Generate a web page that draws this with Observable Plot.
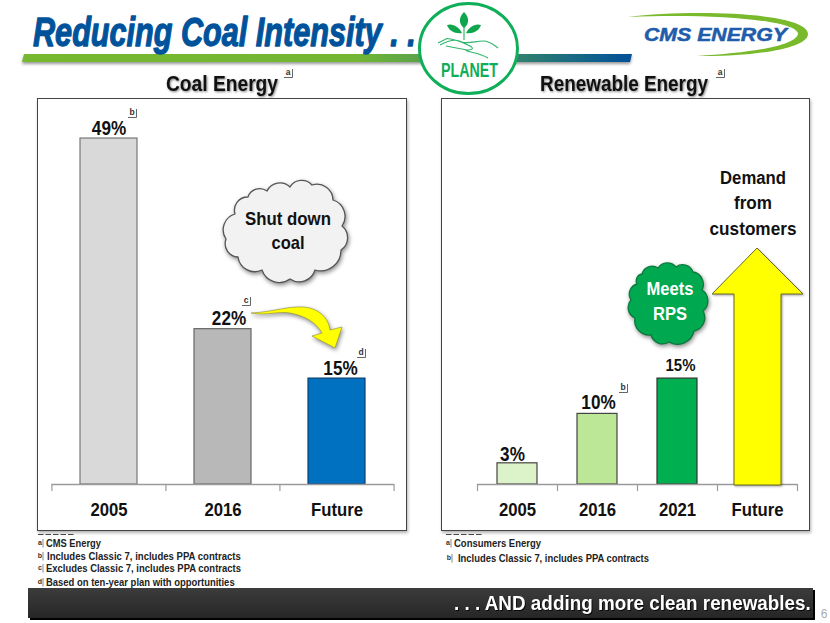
<!DOCTYPE html>
<html>
<head>
<meta charset="utf-8">
<script src="https://cdn.jsdelivr.net/npm/d3@7"></script>
<script src="https://cdn.jsdelivr.net/npm/@observablehq/plot@0.6"></script>
<style>
html,body{margin:0;padding:0;background:#fff;}
#page{position:relative;width:830px;height:623px;overflow:hidden;font-family:"Liberation Sans",Arial,sans-serif;}
.frame{position:absolute;box-sizing:border-box;border:1.3px solid #444;background:#fff;box-shadow:1px 2px 3px rgba(0,0,0,.3);}
.plotbox{position:absolute;}
#overlay{position:absolute;left:0;top:0;}
</style>
</head>
<body>
<div id="page">
  <div class="frame" style="left:37px;top:98px;width:370px;height:433px"></div>
  <div class="frame" style="left:441px;top:98px;width:369px;height:433px"></div>
  <div class="plotbox" id="coal" style="left:37px;top:98px"></div>
  <div class="plotbox" id="renew" style="left:441px;top:98px"></div>
</div>
<script>
const coalCategories = ["2005", "2016", "Future"];
const coalValues = [49, 22, 15];
const coalFills = ["#d9d9d9", "#b8b8b8", "#0070c0"];
const coalStrokes = ["#777777", "#666666", "#0b3f72"];

const renewCategories = ["2005", "2016", "2021", "Future"];
const renewValues = [3, 10, 15, null];
const renewFills = ["#dcf2c9", "#bce796", "#00b050", "none"];
const renewStrokes = ["#444444", "#444444", "#333333", "none"];

const footnotesCoal = ["CMS Energy", "Includes  Classic 7, includes PPA  contracts", "Excludes Classic 7, includes PPA  contracts", "Based on ten-year plan with opportunities"];
const footnotesRenew = ["Consumers Energy", "Includes Classic 7, includes PPA  contracts"];

const FONT = '"Liberation Sans", Arial, sans-serif';
const YMAX = 54.67;

function panel(cats, vals, fills, strokes, w, ml, mr, labelOpts) {
  const data = cats.map((c, i) => ({c, v: vals[i], fill: fills[i], stroke: strokes[i]}));
  const step = (w - ml - mr) / cats.length;
  const labelled = data.filter(d => d.v != null);
  return Plot.plot({
    width: w, height: 433,
    marginTop: 0, marginBottom: 47, marginLeft: ml, marginRight: mr,
    style: {background: "transparent", fontFamily: FONT, overflow: "visible"},
    x: {type: "band", domain: cats, paddingInner: 0.5, paddingOuter: 0.25, label: null},
    y: {domain: [0, YMAX], axis: null, label: null},
    marks: [
      Plot.barY(labelled, {x: "c", y: "v", fill: d => d.fill, stroke: d => d.stroke, strokeWidth: 1.2}),
      Plot.ruleY([0], {stroke: "#9a9a9a", strokeWidth: 1.5}),
      Plot.ruleX(cats, {x: d => d, y1: 0, y2: -1, stroke: "#9a9a9a", strokeWidth: 1.2, dx: -step / 2}),
      Plot.ruleX([cats[cats.length - 1]], {x: d => d, y1: 0, y2: -1, stroke: "#9a9a9a", strokeWidth: 1.2, dx: step / 2}),
      Plot.axisX({tickSize: 0, tickPadding: 18, fontSize: 19, fontWeight: "bold", fill: "#111", label: null}),
      ...labelled.map((d, i) => Plot.text([d], {
        x: "c", y: "v", text: t => t.v + "%",
        fontWeight: "bold", fontSize: labelOpts[i].size, fill: "#111",
        lineAnchor: "bottom", dx: labelOpts[i].dx, dy: labelOpts[i].dy
      }))
    ]
  });
}

document.getElementById("coal").appendChild(panel(coalCategories, coalValues, coalFills, coalStrokes, 370, 14.5, 13,
  [{size: 19.5, dx: 0, dy: -4}, {size: 19.5, dx: 6, dy: -4}, {size: 19.5, dx: 3.5, dy: -4}]));
document.getElementById("renew").appendChild(panel(renewCategories, renewValues, renewFills, renewStrokes, 369, 36, 13,
  [{size: 19.5, dx: -5, dy: -2}, {size: 19.5, dx: 1, dy: -5}, {size: 17, dx: 3, dy: -8}]));

/* the slide's type is narrower than the installed Arial metric: condense the plot labels */
document.querySelectorAll(".plotbox svg text").forEach(t => {
  const n = t.getComputedTextLength();
  t.setAttribute("textLength", (n * 0.88).toFixed(1));
  t.setAttribute("lengthAdjust", "spacingAndGlyphs");
});

/* ---------- slide furniture ---------- */
const NS = "http://www.w3.org/2000/svg";
const svg = d3.select("#page").append("svg").attr("id", "overlay")
  .attr("width", 830).attr("height", 623).attr("xmlns", NS);
const defs = svg.append("defs");

const barGrad = defs.append("linearGradient").attr("id", "barGrad").attr("x1", 0).attr("x2", 1).attr("y1", 0).attr("y2", 0);
[[0, "#76b82f"], [0.55, "#72b633"], [0.76, "#3f8f62"], [1, "#00509a"]].forEach(([o, c]) => barGrad.append("stop").attr("offset", o).attr("stop-color", c));
const darkGrad = defs.append("linearGradient").attr("id", "darkGrad").attr("x1", 0).attr("x2", 0).attr("y1", 0).attr("y2", 1);
[[0, "#3c3c3c"], [1, "#262626"]].forEach(([o, c]) => darkGrad.append("stop").attr("offset", o).attr("stop-color", c));

function txt(s, x, y, o = {}) {
  const t = svg.append("text").attr("x", 0).attr("y", 0).text(s)
    .attr("font-family", FONT)
    .attr("font-size", o.size || 12)
    .attr("font-weight", o.weight || "bold")
    .attr("font-style", o.style || "normal")
    .attr("fill", o.fill || "#111")
    .attr("text-anchor", o.anchor || "start");
  /* fit to the width measured on the slide by narrowing the glyphs */
  const k = o.len ? o.len / t.node().getComputedTextLength() : 1;
  t.attr("transform", `translate(${x},${y}) scale(${k.toFixed(3)},1)`);
  if (o.shadow) t.style("filter", o.shadow);
  if (o.thick) t.attr("stroke", o.fill || "#111").attr("stroke-width", o.thick).attr("stroke-linejoin", "round");
  return t;
}
function shape(d, fill, stroke, sw, shadow) {
  const p = svg.append("path").attr("d", d).attr("fill", fill).attr("stroke", stroke || "none").attr("stroke-width", sw || 1).attr("stroke-linejoin", "round");
  if (shadow) p.style("filter", shadow);
  return p;
}
/* tiny footnote marker: letter with a corner bracket */
function mark(s, x, y) {
  txt(s, x, y, {size: 8.5, anchor: "middle", weight: "bold", fill: "#333"});
  shape(`M${x - 4},${y + 2.5}H${x + 4.5}V${y - 6}`, "none", "#555", 0.9);
}
/* cloud through notch points */
function cloud(pts, fill, stroke, shadow, bulge) {
  let d = `M${pts[0][0]},${pts[0][1]}`;
  for (let i = 1; i <= pts.length; i++) {
    const a = pts[i - 1], b = pts[i % pts.length];
    const r = Math.hypot(b[0] - a[0], b[1] - a[1]) * bulge;
    d += `A${r},${r} 0 0 1 ${b[0]},${b[1]}`;
  }
  return shape(d + "Z", fill, stroke, 1.3, shadow);
}

/* title and band */
shape("M24,56H632L630,64H22Z", "#999", "none", 1, "blur(1.5px)");
shape("M24,54H632L630,62H22Z", "url(#barGrad)");
txt("Reducing Coal Intensity . .", 33, 46, {size: 41, style: "italic", fill: "#00539b", len: 383, thick: 1.3});

/* PLANET badge */
svg.append("ellipse").attr("cx", 468.5).attr("cy", 48.5).attr("rx", 49).attr("ry", 45)
  .attr("fill", "#fff").attr("stroke", "#0fae58").attr("stroke-width", 3);
const leaf = "#10a64e";
shape("M464,12C458,18 459,24 464,28C469,24 470,18 464,12Z", leaf);
shape("M447,25C453,23 459,27 462,33C455,34 449,31 447,25Z", leaf);
shape("M481,25C475,23 469,27 466,33C473,34 479,31 481,25Z", leaf);
shape("M464,27V40", "none", leaf, 1);
shape("M440,45C447,41 455,38 462,42C468,44 476,41 483,41C490,41 494,45 498,48M438,43L447,38.5C453,39 462,42 470,46C474,48 473,50 467,50L446,46M465,50C470,53 478,52 488,58", "none", "#2fb56c", 1.1);
txt("PLANET", 441, 77, {size: 19.5, fill: "#10ad56", len: 57});

/* logo */
shape("M628,17C690,9 808,12 808,34C808,49 750,57 697,56C745,53 795,47 798,34C798,20 710,13 628,17Z", "#79b92c");
txt("CMS ENERGY", 644, 41, {size: 18, style: "italic", fill: "#1f5cab", len: 143, thick: 0.5});

/* panel titles */
const soft = "drop-shadow(1px 1.5px 1px rgba(0,0,0,.5))";
txt("Coal Energy", 222, 91, {size: 21.5, anchor: "middle", shadow: soft, len: 112});
txt("Renewable Energy", 624, 91, {size: 21.5, anchor: "middle", shadow: soft, len: 168});
mark("a", 288, 75);
mark("a", 720, 75);
mark("b", 132, 115);
mark("c", 246, 303);
mark("d", 361, 355);
mark("b", 623, 390);

/* clouds */
const shad = "drop-shadow(1.5px 2.5px 2px rgba(0,0,0,.45))";
cloud([[235,214],[248,197],[267,191],[290,187],[312,185],[333,200],[342,226],[341,250],[315,270],[290,279],[262,270],[238,257],[226,239]], "#f2f2f2", "#555", shad, 0.62);
cloud([[637,284],[642,274],[658,268],[676,267],[693,272],[702,290],[703,311],[694,331],[669,342],[651,335],[635,318],[631,300]], "#00a850", "#0a7a3c", shad, 0.62);
txt("Shut down", 288, 225, {size: 19, anchor: "middle", len: 86});
txt("coal", 288, 249, {size: 19, anchor: "middle", len: 33});
txt("Meets", 670, 295, {size: 18.5, anchor: "middle", fill: "#fff", len: 47});
txt("RPS", 670, 320, {size: 18.5, anchor: "middle", fill: "#fff", len: 34});

/* curved yellow arrow */
shape("M251,313C275,312 292,304 310,308C324,312 329,322 330,330L342,327L335,348L312,336L322,333C316,322 305,316 290,313C278,311 264,316 251,313Z", "#ffff00", "#8a8a40", 0.6, shad);

/* large yellow arrow */
shape("M757,248L803,294H781V485H734V294H712Z", "#ffff00", "#6b6b20", 1, "drop-shadow(1px 1.5px 1px rgba(0,0,0,.35))");
txt("Demand", 753, 184, {size: 19, anchor: "middle", len: 66});
txt("from", 753, 209, {size: 19, anchor: "middle", len: 38});
txt("customers", 753, 235, {size: 19, anchor: "middle", len: 87});

/* footnotes */
function notes(list, dashX, rows) {
  svg.append("line").attr("x1", dashX).attr("x2", dashX + 37).attr("y1", 534.5).attr("y2", 534.5)
    .attr("stroke", "#444").attr("stroke-width", 1).attr("stroke-dasharray", "5.5 2");
  list.forEach((s, i) => {
    const r = rows[i];
    txt("abcd"[i], r.mx, r.y - 2, {size: 7, anchor: "middle", fill: "#333"});
    shape(`M${r.mx + 3},${r.y + 0.5}V${r.y - 8}`, "none", "#555", 0.7);
    txt(s, r.x, r.y, {size: 10.5, fill: "#222", len: r.len});
  });
}
notes(footnotesCoal, 38, [
  {x: 46, y: 547, mx: 40, len: 55},
  {x: 47, y: 560, mx: 40, len: 194},
  {x: 46, y: 572, mx: 40, len: 195},
  {x: 46, y: 586, mx: 40, len: 189}
]);
notes(footnotesRenew, 446, [
  {x: 454, y: 547, mx: 448, len: 87},
  {x: 458, y: 562, mx: 449, len: 191}
]);

/* bottom band */
shape("M30,590H815V620H30Z", "#000");
shape("M28,588H813V618H28Z", "url(#darkGrad)");
txt(". . . AND adding more clean renewables.", 454, 610, {size: 21, fill: "#fff", len: 357, shadow: "drop-shadow(1px 1px 0.5px rgba(0,0,0,.8))"});
txt("6", 824, 618, {size: 12, weight: "normal", anchor: "middle", fill: "#aaa"});
</script>
</body>
</html>
